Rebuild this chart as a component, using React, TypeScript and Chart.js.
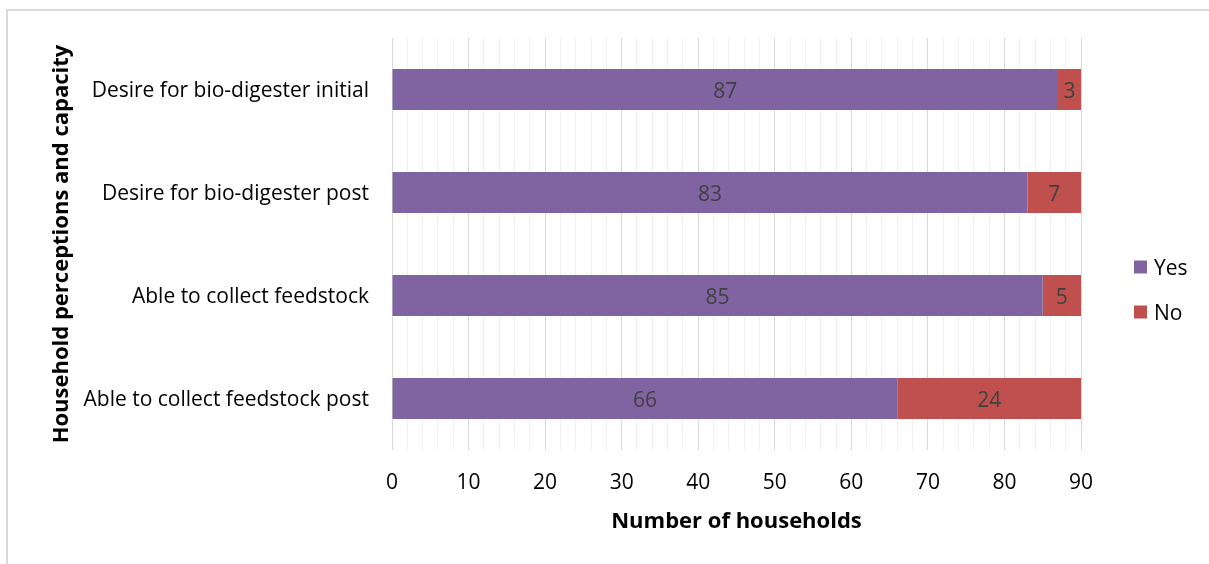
import React, { useEffect, useRef } from "react";
import { Chart, registerables } from "chart.js";

Chart.register(...registerables);

const categories = [
  "Desire for bio-digester initial",
  "Desire for bio-digester post",
  "Able to collect feedstock",
  "Able to collect feedstock post",
];
const yesValues = [87, 83, 85, 66];
const noValues = [3, 7, 5, 24];
const seriesNames = ["Yes", "No"];
const seriesColors = ["#8064A2", "#C0504D"];
const xMin = 0;
const xMax = 90;
const xTitle = "Number of households";
const yTitle = "Household perceptions and capacity";

const FONT = "'Open Sans', 'Noto Sans', sans-serif";
const W = 1209;
const H = 564;

// Writes each segment's value in the middle of its bar.
const valueLabels = {
  id: "valueLabels",
  afterDatasetsDraw(chart: any) {
    const ctx = chart.ctx;
    ctx.save();
    ctx.font = `21px ${FONT}`;
    ctx.fillStyle = "#404040";
    ctx.textAlign = "center";
    ctx.textBaseline = "middle";
    chart.data.datasets.forEach((ds: any, di: number) => {
      const meta = chart.getDatasetMeta(di);
      meta.data.forEach((el: any, i: number) => {
        const { x, y, base } = el.getProps(["x", "y", "base"], true);
        ctx.fillText(String(ds.data[i]), (x + base) / 2, y + 3);
      });
    });
    ctx.restore();
  },
};

// Vertical legend to the right of the plot.
const sideLegend = {
  id: "sideLegend",
  afterDraw(chart: any) {
    const ctx = chart.ctx;
    const x0 = chart.chartArea.right + 53;
    const y0 = 267;
    ctx.save();
    ctx.font = `21px ${FONT}`;
    ctx.textBaseline = "middle";
    ctx.textAlign = "left";
    chart.data.datasets.forEach((ds: any, i: number) => {
      const cy = y0 + i * 45;
      ctx.fillStyle = ds.backgroundColor;
      ctx.fillRect(x0, cy - 6.5, 13, 13);
      ctx.fillStyle = "#000000";
      ctx.fillText(ds.label, x0 + 20, cy + 2);
    });
    ctx.restore();
  },
};

export default function App() {
  const canvasRef = useRef<HTMLCanvasElement | null>(null);

  useEffect(() => {
    if (!canvasRef.current) return;
    const chart = new Chart(canvasRef.current, {
      type: "bar",
      data: {
        labels: categories,
        datasets: [
          {
            label: seriesNames[0],
            data: yesValues,
            backgroundColor: seriesColors[0],
            barPercentage: 0.4,
            categoryPercentage: 1,
          },
          {
            label: seriesNames[1],
            data: noValues,
            backgroundColor: seriesColors[1],
            barPercentage: 0.4,
            categoryPercentage: 1,
          },
        ],
      },
      options: {
        indexAxis: "y",
        responsive: false,
        animation: false,
        layout: { padding: { left: 49, top: 38, right: 128, bottom: 0 } },
        plugins: {
          legend: { display: false },
          tooltip: { enabled: false },
        },
        scales: {
          x: {
            stacked: true,
            min: xMin,
            max: xMax,
            afterFit: (scale: any) => {
              scale.height = 114;
            },
            border: { display: false },
            grid: {
              drawTicks: false,
              color: (c: any) =>
                c.tick && c.tick.value % 10 === 0 ? "#d9d9d9" : "#efefef",
              lineWidth: 1,
            },
            ticks: {
              stepSize: 2,
              autoSkip: false,
              maxRotation: 0,
              padding: 20,
              color: "#000000",
              font: { family: FONT, size: 21 },
              callback: (v: any) => (Number(v) % 10 === 0 ? String(v) : ""),
            },
            title: {
              display: true,
              text: xTitle,
              color: "#000000",
              font: { family: FONT, size: 22, weight: "bold" },
              padding: { top: 0, bottom: 29 },
            },
          },
          y: {
            stacked: true,
            afterFit: (scale: any) => {
              scale.width = 392 - 49;
            },
            border: { display: false },
            grid: { display: false, drawTicks: false },
            ticks: {
              padding: 23,
              labelOffset: 2,
              color: "#000000",
              font: { family: FONT, size: 21 },
            },
            title: {
              display: true,
              text: yTitle,
              color: "#000000",
              font: { family: FONT, size: 22, weight: "bold" },
              padding: { top: 0, bottom: 0 },
            },
          },
        },
      },
      plugins: [valueLabels, sideLegend],
    });
    return () => chart.destroy();
  }, []);

  return (
    <div style={{ position: "absolute", left: 0, top: 0, width: W, height: H, background: "#ffffff" }}>
      <div
        style={{
          position: "absolute",
          left: 6,
          top: 9,
          right: 0,
          bottom: 0,
          borderLeft: "2px solid #d9d9d9",
          borderTop: "2px solid #d9d9d9",
        }}
      />
      <canvas
        ref={canvasRef}
        width={W}
        height={H}
        style={{ position: "absolute", left: 0, top: 0, width: W, height: H }}
      />
    </div>
  );
}
